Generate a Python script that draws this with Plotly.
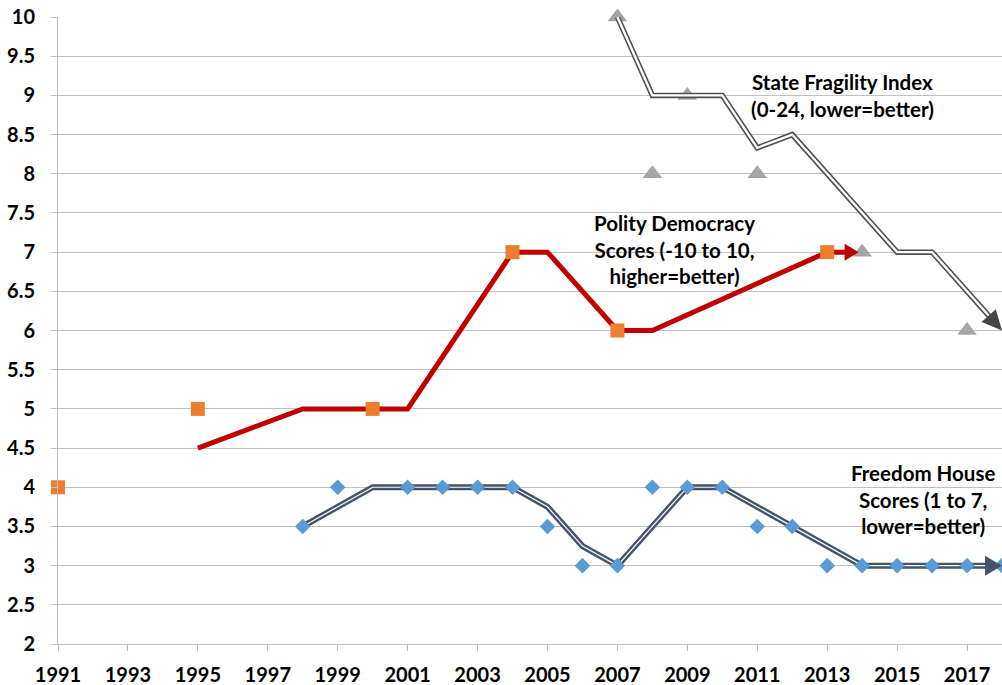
import math
import plotly.graph_objects as go

# ---------------- data ----------------
polity_years = [1991, 1995, 2000, 2004, 2007, 2013]
polity_vals = [4, 5, 5, 7, 6, 7]

polity_trend_years = [1995, 1998, 2001, 2004, 2005, 2007, 2008, 2013, 2013.9]
polity_trend_vals = [4.5, 5, 5, 7, 7, 6, 6, 7, 7]

fh_years = [1998, 1999, 2001, 2002, 2003, 2004, 2005, 2006, 2007, 2008, 2009,
            2010, 2011, 2012, 2013, 2014, 2015, 2016, 2017, 2018]
fh_vals = [3.5, 4, 4, 4, 4, 4, 3.5, 3, 3, 4, 4, 4, 3.5, 3.5, 3, 3, 3, 3, 3, 3]

fh_trend_years = [1998, 2000, 2004, 2005, 2006, 2007, 2008, 2009, 2010, 2012, 2014, 2018]
fh_trend_vals = [3.5, 4, 4, 3.75, 3.25, 3.0, 3.5, 4, 4, 3.5, 3, 3]

sfi_years = [2007, 2008, 2009, 2011, 2014, 2017]
sfi_vals = [10, 8, 9, 8, 7, 6]

sfi_trend_years = [2007, 2008, 2010, 2011, 2012, 2015, 2016, 2018]
sfi_trend_vals = [10, 9, 9, 8.33, 8.5, 7, 7, 6]

x_ticks = list(range(1991, 2018, 2))
x_ticklabels = [str(v) for v in x_ticks]

labels = {
    "sfi": "State Fragility Index<br>(0-24, lower=better)",
    "polity": "Polity Democracy<br>Scores (-10 to 10,<br>higher=better)",
    "fh": "Freedom House<br>Scores (1 to 7,<br>lower=better)",
}
label_pos = {
    "sfi": (2013.45, 9.0),
    "polity": (2008.62, 7.03),
    "fh": (2015.74, 3.85),
}

FONT = "Lato, 'Open Sans', sans-serif"

# ---------------- geometry of the plotting area ----------------
W, H = 1002, 685
M_L, M_R, M_T, M_B = 58, 0, 17, 41
X_RANGE = [1991, 2018]
Y_RANGE = [2, 10]
SX = (W - M_L - M_R) / (X_RANGE[1] - X_RANGE[0])   # px per year
SY = (H - M_T - M_B) / (Y_RANGE[1] - Y_RANGE[0])   # px per unit

fig = go.Figure()


def head_geometry(xs, ys, length, width):
    """Arrow-head triangle (in data units) at the last point, oriented along the last segment."""
    x0, y0, x1, y1 = xs[-2], ys[-2], xs[-1], ys[-1]
    dx, dy = (x1 - x0) * SX, (y1 - y0) * SY
    n = math.hypot(dx, dy)
    ux, uy = dx / n, dy / n
    px, py = -uy, ux
    bx, by = -length * ux, -length * uy
    pts = [(0, 0), (bx + px * width / 2, by + py * width / 2), (bx - px * width / 2, by - py * width / 2), (0, 0)]
    hx = [x1 + p[0] / SX for p in pts]
    hy = [y1 + p[1] / SY for p in pts]
    # shortened end of the shaft so it hides under the head
    tx = x1 - 0.6 * length * ux / SX
    ty = y1 - 0.6 * length * uy / SY
    return hx, hy, list(xs[:-1]) + [tx], list(ys[:-1]) + [ty]


def trend_line(xs, ys, color, width, head_len, head_w, head_color=None, inner=None, inner_width=0):
    hx, hy, lx, ly = head_geometry(xs, ys, head_len, head_w)
    fig.add_trace(go.Scatter(x=lx, y=ly, mode="lines", line=dict(color=color, width=width),
                             hoverinfo="skip", showlegend=False, cliponaxis=False))
    if inner:
        fig.add_trace(go.Scatter(x=lx, y=ly, mode="lines", line=dict(color=inner, width=inner_width),
                                 hoverinfo="skip", showlegend=False, cliponaxis=False))
    return go.Scatter(x=hx, y=hy, mode="lines", fill="toself",
                      fillcolor=head_color or color, line=dict(width=0, color=head_color or color),
                      hoverinfo="skip", showlegend=False, cliponaxis=False)


# State Fragility: triangles under the double grey line
fig.add_trace(go.Scatter(x=sfi_years, y=sfi_vals, mode="markers",
                         marker=dict(symbol="triangle-up", size=17, color="#A5A5A5"),
                         hoverinfo="skip", showlegend=False, cliponaxis=False))
sfi_head = trend_line(sfi_trend_years, sfi_trend_vals, "#505050", 5.5, 20, 19,
                      head_color="#454545", inner="white", inner_width=2.4)
fig.add_trace(sfi_head)

# Polity: red trend line, squares on top
polity_head = trend_line(polity_trend_years, polity_trend_vals, "#C00000", 5, 14, 17)
fig.add_trace(go.Scatter(x=polity_years, y=polity_vals, mode="markers",
                         marker=dict(symbol="square", size=14, color="#ED7D31"),
                         hoverinfo="skip", showlegend=False, cliponaxis=False))
fig.add_trace(polity_head)

# Freedom House: double dark line, diamonds on top
fh_head = trend_line(fh_trend_years, fh_trend_vals, "#44546A", 6, 17, 20, inner="white", inner_width=1.2)
fig.add_trace(go.Scatter(x=fh_years, y=fh_vals, mode="markers",
                         marker=dict(symbol="diamond", size=12, color="#5B9BD5"),
                         hoverinfo="skip", showlegend=False, cliponaxis=False))
fig.add_trace(fh_head)

for k, txt in labels.items():
    x, y = label_pos[k]
    fig.add_annotation(x=x, y=y, text=txt, showarrow=False, xanchor="center", yanchor="middle",
                       align="center", font=dict(family=FONT, size=20.5, color="black", weight="bold"))

fig.update_layout(
    width=W, height=H,
    margin=dict(l=M_L, r=M_R, t=M_T, b=M_B),
    paper_bgcolor="white", plot_bgcolor="white",
    xaxis=dict(range=X_RANGE, tickvals=x_ticks, ticktext=x_ticklabels,
               showgrid=False, zeroline=False, showline=True, linecolor="#bfbfbf", linewidth=1,
               ticks="outside", ticklen=6, tickcolor="#bfbfbf", ticklabelstandoff=7,
               tickfont=dict(family=FONT, size=20, color="black", weight="bold")),
    yaxis=dict(range=Y_RANGE, dtick=0.5, tick0=2, showgrid=True, gridcolor="#c0c0c0", gridwidth=1,
               zeroline=False, showline=True, linecolor="#bfbfbf", linewidth=1,
               ticks="outside", ticklen=6, tickcolor="#c0c0c0", ticklabelstandoff=12,
               tickfont=dict(family=FONT, size=20, color="black", weight="bold")),
)

fig.write_html("out.html", config={"displayModeBar": False},
               post_script="document.body.style.margin='0';document.body.style.overflow='hidden';")
